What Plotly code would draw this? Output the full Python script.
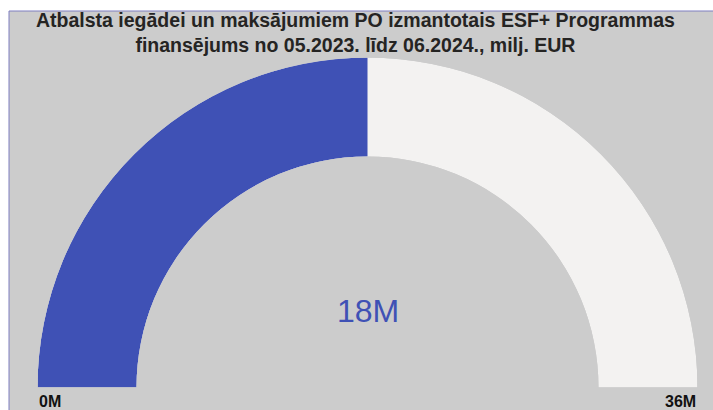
import plotly.graph_objects as go

# ---- data ----
title_lines = [
    "Atbalsta iegādei un maksājumiem PO izmantotais ESF+ Programmas",
    "finansējums no 05.2023. līdz 06.2024., milj. EUR",
]
gauge_min = 0
gauge_max = 36
gauge_value = 18
unit = "M"

# ---- style ----
W, H = 713, 410
BLUE = "#3f51b5"
LIGHT = "#f3f2f1"
PANEL = "#cccccc"
FONT = "Liberation Sans"

span = 180.0
frac = (gauge_value - gauge_min) / (gauge_max - gauge_min)

fig = go.Figure()
fig.add_trace(go.Barpolar(
    r=[1], theta=[span / 2], width=[span],
    marker=dict(color=LIGHT, line=dict(width=0)),
    hoverinfo="skip", showlegend=False,
))
fig.add_trace(go.Barpolar(
    r=[1], theta=[frac * span / 2], width=[frac * span],
    marker=dict(color=BLUE, line=dict(width=0)),
    hovertemplate=f"{gauge_value}{unit}<extra></extra>", showlegend=False,
))

def px(x):
    return x / W

def py(y):
    return 1 - y / H

fig.update_layout(
    width=W, height=H,
    margin=dict(l=0, r=0, t=0, b=0),
    paper_bgcolor="white",
    showlegend=False,
    polar=dict(
        domain=dict(x=[px(37.5), px(697.5)], y=[py(388), py(57)]),
        sector=[0, 180],
        hole=0.7,
        bgcolor="rgba(0,0,0,0)",
        bargap=0,
        radialaxis=dict(visible=False, range=[0, 1]),
        angularaxis=dict(visible=False, rotation=180, direction="clockwise",
                         showgrid=False),
    ),
    shapes=[dict(
        type="rect", xref="paper", yref="paper",
        x0=px(9), x1=1.02, y0=-0.02, y1=py(11),
        fillcolor=PANEL, line=dict(color="#7f7fc0", width=1), layer="below",
    )],
    annotations=[
        dict(text="<b>" + "<br>".join(title_lines) + "</b>",
             x=px(355), y=py(32.5), xref="paper", yref="paper",
             xanchor="center", yanchor="middle", showarrow=False,
             font=dict(family=FONT, size=19.5, color="#252423")),
        dict(text=f"{gauge_value}{unit}", x=px(368), y=py(311),
             xref="paper", yref="paper", xanchor="center", yanchor="middle",
             showarrow=False, font=dict(family=FONT, size=32, color=BLUE)),
        dict(text=f"<b>{gauge_min}{unit}</b>", x=px(37), y=py(401.5),
             xref="paper", yref="paper", xanchor="left", yanchor="middle",
             showarrow=False, font=dict(family=FONT, size=16, color="#111111")),
        dict(text=f"<b>{gauge_max}{unit}</b>", x=px(698), y=py(401.5),
             xref="paper", yref="paper", xanchor="right", yanchor="middle",
             showarrow=False, font=dict(family=FONT, size=16, color="#111111")),
    ],
)

fig.write_html("out.html", config={"displayModeBar": False},
               post_script="document.body.style.margin='0';document.body.style.overflow='hidden';")
